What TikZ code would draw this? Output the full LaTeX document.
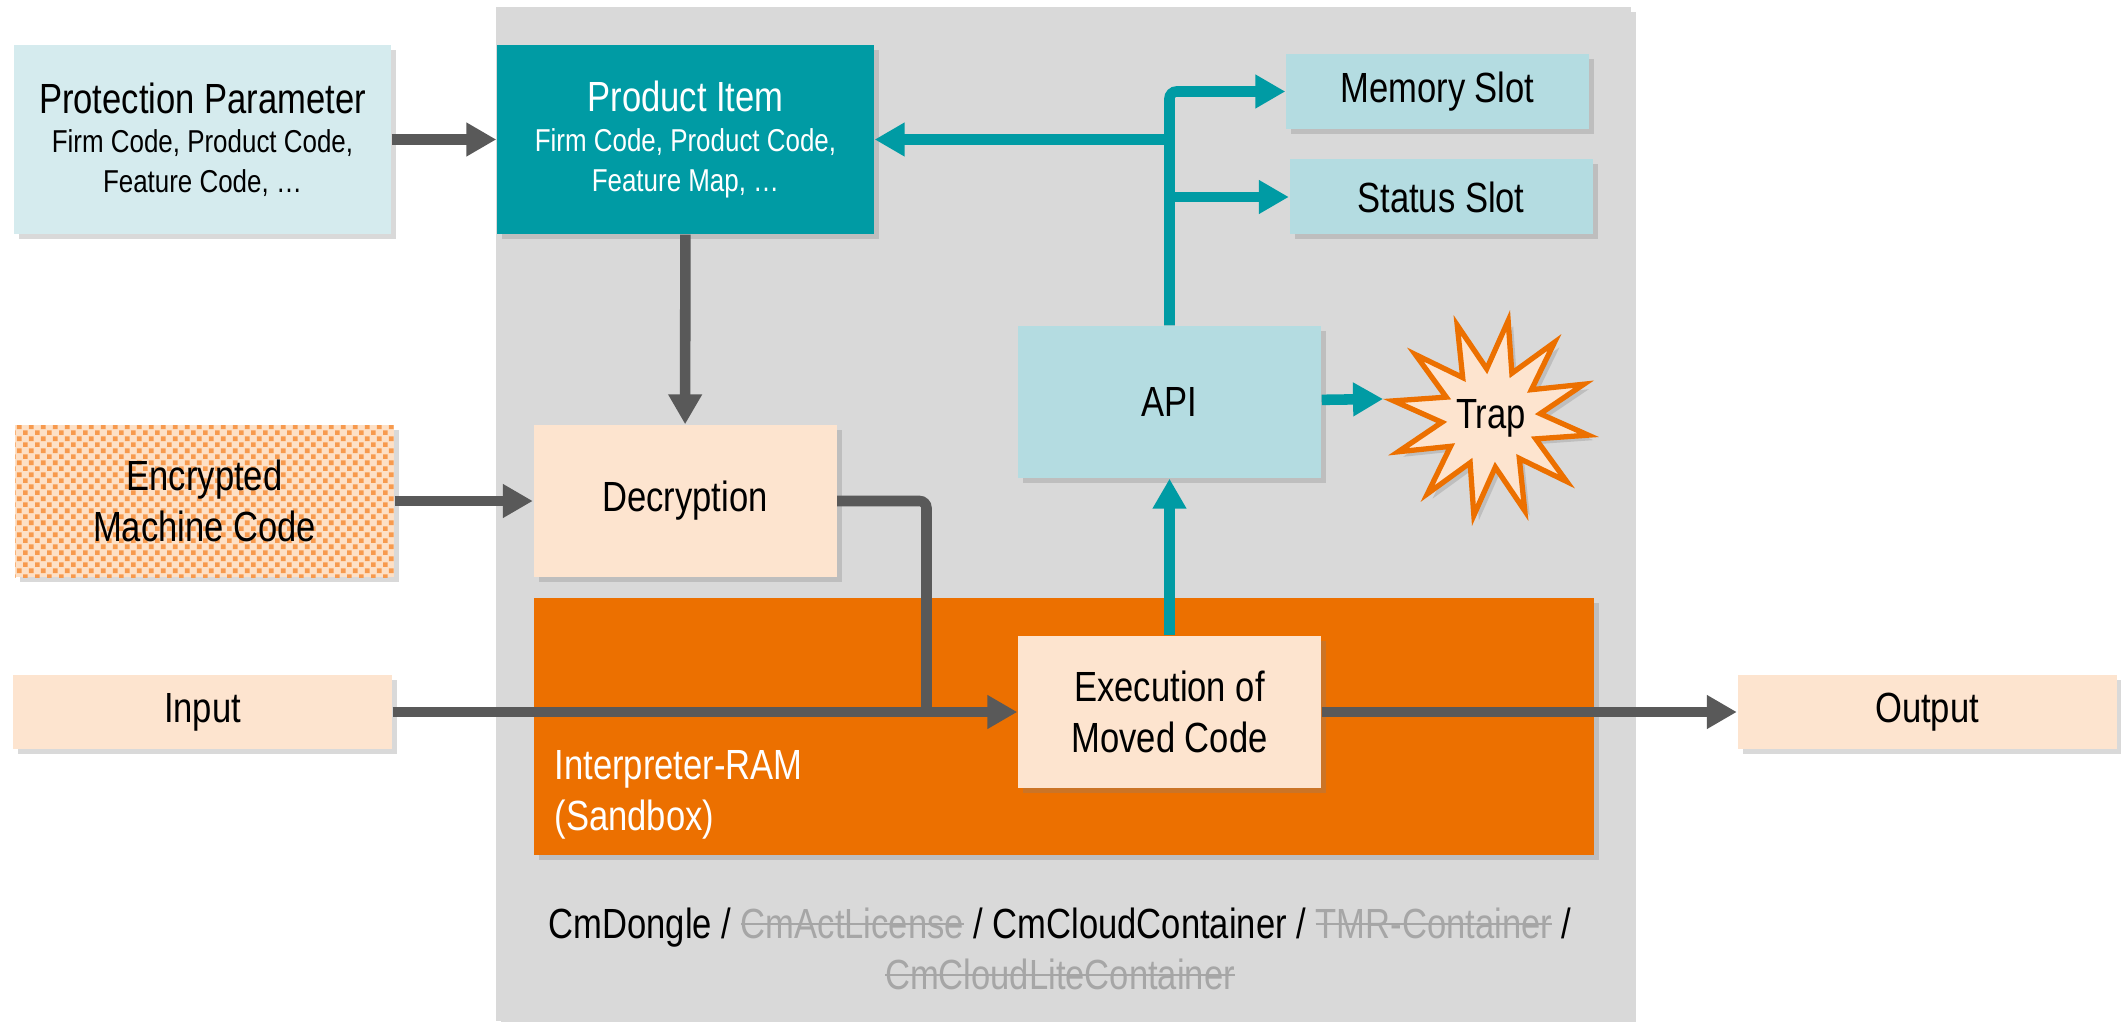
\documentclass[tikz,border=0pt]{standalone}
\usepackage{fontspec}
\setmainfont{Liberation Sans}[FakeStretch=0.82]
\usepackage{xcolor}
\usetikzlibrary{arrows.meta,shapes.geometric,shadows,patterns}

\definecolor{tealdark}{HTML}{009BA4}
\definecolor{teallight}{HTML}{B4DCE1}
\definecolor{tealpale}{HTML}{D5EBEE}
\definecolor{peach}{HTML}{FDE4CF}
\definecolor{peachdot}{HTML}{FDE0C6}
\definecolor{dotorange}{HTML}{F79A4E}
\definecolor{wibuorange}{HTML}{EC7000}
\definecolor{bggray}{HTML}{D9D9D9}
\definecolor{arrowgray}{HTML}{595959}
\definecolor{strikegray}{HTML}{A6A6A6}

\newcommand\bigfnt{\fontsize{12}{14.5}\selectfont}
\newcommand\smallfnt{\fontsize{9}{11.3}\selectfont}
\newcommand\struck[1]{{\color{strikegray}\setbox0\hbox{#1}\rlap{\box0}\setbox0\hbox{#1}\rule[0.33em]{\wd0}{0.6pt}}}

\pgfdeclarepatternformonly{orangedots}{\pgfqpoint{0pt}{0pt}}{\pgfqpoint{3.4pt}{3.4pt}}{\pgfqpoint{3.4pt}{3.4pt}}{%
  \pgfpathrectangle{\pgfqpoint{0pt}{0pt}}{\pgfqpoint{1.3pt}{1.3pt}}%
  \pgfpathrectangle{\pgfqpoint{1.7pt}{1.7pt}}{\pgfqpoint{1.3pt}{1.3pt}}%
  \pgfusepath{fill}}

\tikzset{shad/.style={drop shadow={shadow xshift=0.05cm,shadow yshift=-0.05cm,opacity=0.3}},
  blk/.style={rectangle,shad,inner sep=0pt,align=center,font=\bigfnt,minimum width=3.03cm,minimum height=1.52cm},
  pale/.style={blk,fill=tealpale,font=\smallfnt,minimum width=3.77cm,minimum height=1.89cm},
  dark/.style={blk,fill=tealdark,text=white,font=\smallfnt,minimum width=3.77cm,minimum height=1.89cm},
  light/.style={blk,fill=teallight},
  slot/.style={blk,fill=teallight,minimum height=0.75cm},
  peachbox/.style={blk,fill=peach},
  io/.style={blk,fill=peach,minimum width=3.79cm,minimum height=0.74cm},
  enc/.style={blk,preaction={fill=peachdot},pattern=orangedots,pattern color=dotorange,minimum width=3.79cm},
  trapstar/.style={star,star points=12,star point ratio=2,minimum size=1.9cm,inner sep=0pt,shape border rotate=-10,
    fill=peach,draw=wibuorange,line width=1.5pt,font=\bigfnt,shad},
  gline/.style={draw=arrowgray,line width=3pt},
  tline/.style={draw=tealdark,line width=3pt}}

\begin{document}
\begin{tikzpicture}[>={Triangle[length=0.3cm,width=0.32cm]}]
    \useasboundingbox (0,0) rectangle (21.21,10.21);
    \node[rectangle,fill=bggray,shad,minimum width=11.35cm,minimum height=10.14cm] (dongle) at (10.635,5.07) {};
    \node[rectangle,fill=wibuorange,shad,minimum width=10.6cm,minimum height=2.57cm] (ram) at (10.64,2.945) {};
    \node[anchor=west,align=left,text=white,font=\bigfnt,inner sep=0pt] (ramlbl) at (5.54,2.26) {Interpreter-RAM\\(Sandbox)};

    \node[pale] (prot) at (2.025,8.815) {{\bigfnt Protection Parameter}\\Firm Code, Product Code,\\Feature Code, …};
    \node[dark] (prod) at (6.855,8.815) {{\bigfnt Product Item}\\Firm Code, Product Code,\\Feature Map, …};
    \node[slot] (mem) at (14.375,9.295) {Memory Slot};
    \node[slot] (stat) at (14.41,8.24) {Status Slot};
    \node[light] (api) at (11.695,6.19) {API};
    \node[trapstar] (trap) at (14.91,6.03) {Trap};
    \node[enc] (enc) at (2.045,5.2) {Encrypted\\Machine Code};
    \node[peachbox] (dec) at (6.85,5.2) {Decryption};
    \node[peachbox] (exe) at (11.695,3.09) {Execution of\\Moved Code};
    \node[io] (in) at (2.025,3.09) {Input};
    \node[io] (out) at (19.27,3.09) {Output};
    \coordinate (join) at (9.265,3.09);

    \node[align=center,font=\bigfnt] (cm) at (10.6,0.72) {CmDongle / \struck{CmActLicense} / CmCloudContainer / \struck{TMR-Container} /\\\struck{CmCloudLiteContainer}};

    \draw [gline,->] (prot) -- (prod);
    \draw [gline,->] (prod) -- (dec);
    \draw [gline,->] (enc) -- (dec);
    \draw [gline,rounded corners=2pt] (dec) -| (join);
    \draw [gline,->] (in) -- (exe);
    \draw [gline,->] (exe) -- (out);
    \draw [tline,->] (exe) -- (api);
    \draw [tline,->] (api) -- (trap.170);
    \draw [tline,->,rounded corners=2pt] (api) |- (mem);
    \draw [tline,->] (api |- stat) -- (stat);
    \draw [tline,->] (api |- prod) -- (prod);
\end{tikzpicture}
\end{document}
